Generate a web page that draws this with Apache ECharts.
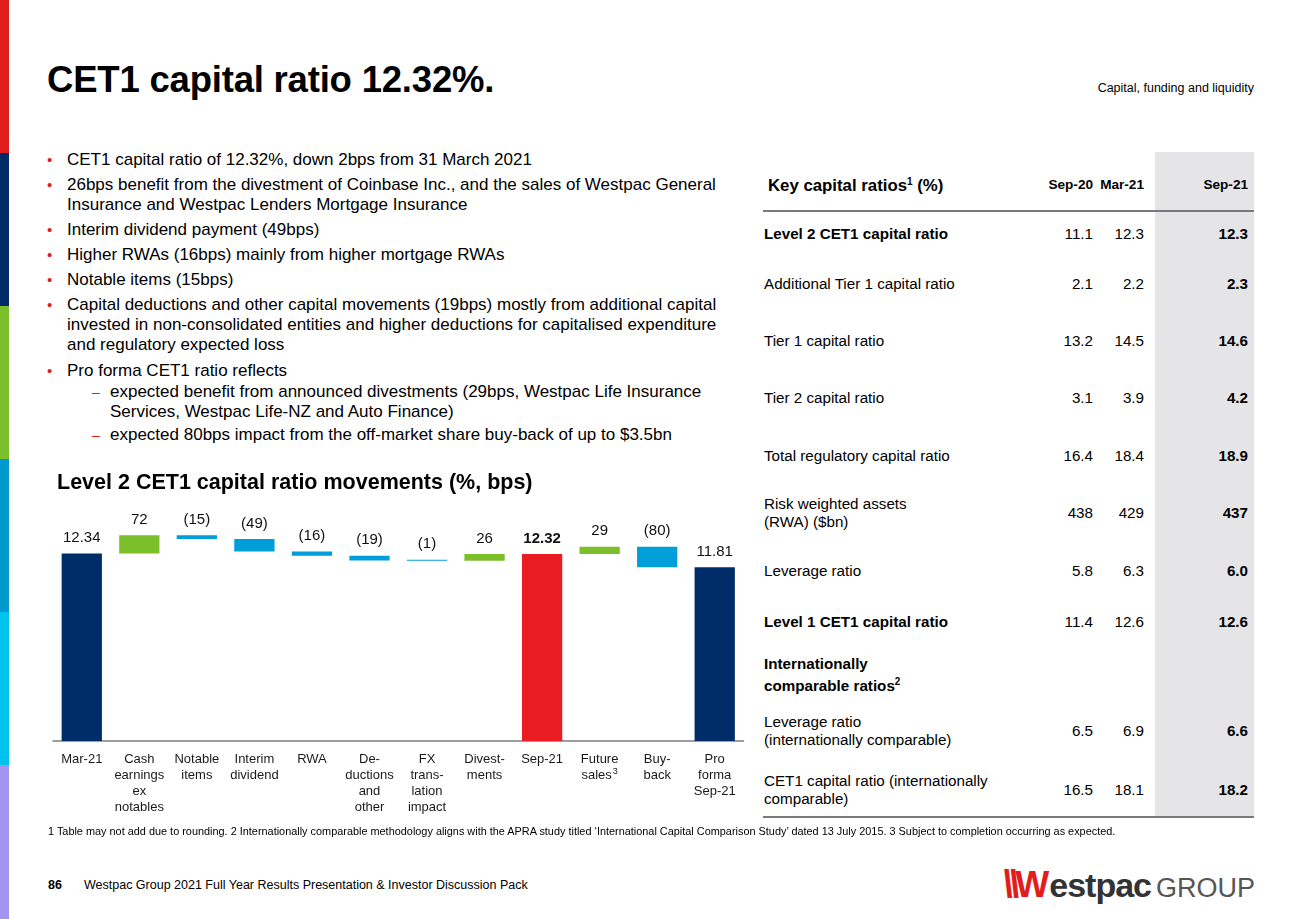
<!DOCTYPE html>
<html>
<head>
<meta charset="utf-8">
<script src="https://cdn.jsdelivr.net/npm/echarts@6/dist/echarts.min.js"></script>
<style>
  html, body { margin: 0; padding: 0; background: #fff; }
  body { width: 1300px; height: 919px; position: relative; overflow: hidden;
         font-family: Arial, "Liberation Sans", Helvetica, sans-serif; color: #000; }
  .abs { position: absolute; }
  .stripe { position: absolute; left: 0; width: 9px; }
  #title { left: 47px; top: 59px; font-size: 36.5px; font-weight: bold; letter-spacing: -0.2px; }
  #section { right: 46px; top: 81px; font-size: 12.5px; color: #000; }
  .bl { position: absolute; left: 67px; font-size: 17px; line-height: 20px; white-space: nowrap; }
  .bl .dot { position: absolute; left: -20px; top: 0; color: #E21D1D; font-size: 15px; }
  .sb { position: absolute; left: 110px; font-size: 17px; line-height: 20px; white-space: nowrap; }
  .sb .dash { position: absolute; left: -18px; top: 0; color: #E21D1D; font-size: 14px; }
  #shade { left: 1155px; top: 152px; width: 99px; height: 665px; background: #E5E5E8; }
  .hline { position: absolute; left: 763px; width: 491px; height: 2px; background: #7a7a7a; }
  .tl { position: absolute; left: 764px; font-size: 15.2px; line-height: 18px; white-space: nowrap; transform: translateY(-50%); }
  .tv { position: absolute; font-size: 15.2px; line-height: 18px; text-align: right; width: 60px; transform: translateY(-50%); }
  .th { position: absolute; font-size: 13.6px; font-weight: bold; text-align: right; width: 70px; transform: translateY(-50%); }
  #foot { left: 48px; top: 825px; font-size: 10.9px; white-space: nowrap; }
  #pg { left: 48px; top: 878px; font-size: 12.5px; font-weight: bold; }
  #pgt { left: 84px; top: 878px; font-size: 12.5px; }
  #logo { right: 45px; top: 866px; white-space: nowrap; line-height: 36px; }
  #chart { position: absolute; left: 0; top: 455px; width: 770px; height: 375px; }
</style>
</head>
<body>
<div class="stripe" style="top:0;height:153px;background:#E21D1D"></div>
<div class="stripe" style="top:153px;height:153px;background:#002D6A"></div>
<div class="stripe" style="top:306px;height:153px;background:#7BBF2A"></div>
<div class="stripe" style="top:459px;height:153px;background:#0099CF"></div>
<div class="stripe" style="top:612px;height:153px;background:#00C2EE"></div>
<div class="stripe" style="top:765px;height:154px;background:#A294F0"></div>

<div id="title" class="abs">CET1 capital ratio 12.32%.</div>
<div id="section" class="abs">Capital, funding and liquidity</div>

<div class="bl" style="top:150px"><span class="dot">•</span>CET1 capital ratio of 12.32%, down 2bps from 31 March 2021</div>
<div class="bl" style="top:175px"><span class="dot">•</span>26bps benefit from the divestment of Coinbase Inc., and the sales of Westpac General<br>Insurance and Westpac Lenders Mortgage Insurance</div>
<div class="bl" style="top:220px"><span class="dot">•</span>Interim dividend payment (49bps)</div>
<div class="bl" style="top:245px"><span class="dot">•</span>Higher RWAs (16bps) mainly from higher mortgage RWAs</div>
<div class="bl" style="top:270px"><span class="dot">•</span>Notable items (15bps)</div>
<div class="bl" style="top:295px"><span class="dot">•</span>Capital deductions and other capital movements (19bps) mostly from additional capital<br>invested in non-consolidated entities and higher deductions for capitalised expenditure<br>and regulatory expected loss</div>
<div class="bl" style="top:361px"><span class="dot">•</span>Pro forma CET1 ratio reflects</div>
<div class="sb" style="top:382px"><span class="dash">–</span>expected benefit from announced divestments (29bps, Westpac Life Insurance<br>Services, Westpac Life-NZ and Auto Finance)</div>
<div class="sb" style="top:425px"><span class="dash">–</span>expected 80bps impact from the off-market share buy-back of up to $3.5bn</div>

<div id="shade" class="abs"></div>
<div class="hline" style="top:210px"></div>
<div class="hline" style="top:816px"></div>
<div id="table"></div>

<div id="chart"></div>

<div id="foot" class="abs">1 Table may not add due to rounding. 2 Internationally comparable methodology aligns with the APRA study titled ‘International Capital Comparison Study’ dated 13 July 2015. 3 Subject to completion occurring as expected.</div>
<div id="pg" class="abs">86</div>
<div id="pgt" class="abs">Westpac Group 2021 Full Year Results Presentation &amp; Investor Discussion Pack</div>
<div id="logo" class="abs"><span style="color:#E21D1D;font-weight:900;font-size:38px;font-style:italic;letter-spacing:-4px">\\</span><span style="color:#E21D1D;font-weight:900;font-size:36px">W</span><span style="color:#333;font-weight:bold;font-size:34px;letter-spacing:-1px">estpac</span><span style="color:#555;font-size:27px;margin-left:5px">GROUP</span></div>

<script>
// ---- Chart data ----
const categories = ['Mar-21', 'Cash\nearnings\nex\nnotables', 'Notable\nitems', 'Interim\ndividend', 'RWA',
  'De-\nductions\nand\nother', 'FX\ntrans-\nlation\nimpact', 'Divest-\nments', 'Sep-21', 'Future\nsales',
  'Buy-\nback', 'Pro\nforma\nSep-21'];
const categoryNotes = ['', '', '', '', '', '', '', '', '', '3', '', ''];
const totalValues = [12.34, null, null, null, null, null, null, null, 12.32, null, null, 11.81];
const movementBps = [null, 72, -15, -49, -16, -19, -1, 26, null, 29, -80, null];
const totalColors = ['#002D6A', null, null, null, null, null, null, null, '#E91C24', null, null, '#002D6A'];

// ---- Table data ----
const tableColumns = ['Sep-20', 'Mar-21', 'Sep-21'];
const tableRowLabels = ['Level 2 CET1 capital ratio', 'Additional Tier 1 capital ratio', 'Tier 1 capital ratio',
  'Tier 2 capital ratio', 'Total regulatory capital ratio', 'Risk weighted assets<br>(RWA) ($bn)', 'Leverage ratio',
  'Level 1 CET1 capital ratio', 'Internationally<br>comparable ratios<sup style="font-size:10px">2</sup>',
  'Leverage ratio<br>(internationally comparable)', 'CET1 capital ratio (internationally<br>comparable)'];
const tableSep20 = ['11.1', '2.1', '13.2', '3.1', '16.4', '438', '5.8', '11.4', '', '6.5', '16.5'];
const tableMar21 = ['12.3', '2.2', '14.5', '3.9', '18.4', '429', '6.3', '12.6', '', '6.9', '18.1'];
const tableSep21 = ['12.3', '2.3', '14.6', '4.2', '18.9', '437', '6.0', '12.6', '', '6.6', '18.2'];
const tableBoldRows = [0, 7, 8];

// ---- Build table ----
(function () {
  const t = document.getElementById('table');
  const rowY = [234, 284, 341, 398, 456, 513, 571, 622, 675, 731, 790];
  let html = '<div class="tl" style="top:184px;font-size:16.8px;font-weight:bold;left:768px">Key capital ratios<sup style="font-size:10px">1</sup> (%)</div>';
  const colRight = [1093, 1144, 1248];
  tableColumns.forEach((c, i) => {
    html += '<div class="th" style="top:184px;left:' + (colRight[i] - 70) + 'px">' + c + '</div>';
  });
  tableRowLabels.forEach((lab, r) => {
    const b = tableBoldRows.indexOf(r) >= 0 ? 'font-weight:bold;' : '';
    html += '<div class="tl" style="top:' + rowY[r] + 'px;' + b + '">' + lab + '</div>';
    [tableSep20, tableMar21, tableSep21].forEach((arr, i) => {
      const bb = i === 2 ? 'font-weight:bold;' : '';
      html += '<div class="tv" style="top:' + rowY[r] + 'px;left:' + (colRight[i] - 60) + 'px;' + bb + '">' + arr[r] + '</div>';
    });
  });
  t.innerHTML = html;
})();

// ---- Build waterfall ----
const baseData = [], barData = [];
let level = 0;
categories.forEach((c, i) => {
  if (totalValues[i] !== null) {
    level = totalValues[i];
    baseData.push(0);
    barData.push({ value: totalValues[i], itemStyle: { color: totalColors[i] },
      label: { formatter: totalValues[i].toFixed(2), fontWeight: i === 8 ? 'bold' : 'normal' } });
  } else {
    const d = movementBps[i] / 100;
    const next = Math.round((level + d) * 100) / 100;
    const lo = Math.min(level, next);
    baseData.push(lo);
    const lbl = movementBps[i] < 0 ? '(' + Math.abs(movementBps[i]) + ')' : String(movementBps[i]);
    barData.push({ value: Math.abs(d), itemStyle: { color: movementBps[i] < 0 ? '#009FDA' : '#7BBF2A' },
      label: { formatter: lbl } });
    level = next;
  }
});

const chart = echarts.init(document.getElementById('chart'), null, { renderer: 'canvas' });
chart.setOption({
  animation: false,
  title: {
    text: 'Level 2 CET1 capital ratio movements (%, bps)',
    left: 57, top: 17, padding: 0,
    textStyle: { fontFamily: 'Arial, Liberation Sans', fontSize: 21.5, fontWeight: 'bold', color: '#000' }
  },
  grid: { left: 53, right: 26.5, top: 69, bottom: 89, containLabel: false },
  xAxis: {
    type: 'category',
    data: categories,
    axisLine: { lineStyle: { color: '#7f7f7f', width: 1.5 } },
    axisTick: { show: false },
    axisLabel: {
      interval: 0, margin: 10, color: '#1a1a1a', fontSize: 13, lineHeight: 16,
      fontFamily: 'Arial, Liberation Sans',
      formatter: function (v, idx) {
        return categoryNotes[idx] ? v + '{sup|' + categoryNotes[idx] + '}' : v;
      },
      rich: { sup: { fontSize: 9, lineHeight: 16, verticalAlign: 'top', padding: [0, 0, 6, 1], color: '#1a1a1a' } }
    }
  },
  yAxis: { type: 'value', min: 5, max: 13.5, show: false, splitLine: { show: false } },
  series: [
    { type: 'bar', stack: 'w', data: baseData, barWidth: '70%', itemStyle: { color: 'transparent' }, silent: true },
    { type: 'bar', stack: 'w', data: barData, barWidth: '70%', barMinHeight: 1,
      label: { show: true, position: 'top', distance: 8, fontSize: 15, color: '#111', fontFamily: 'Arial, Liberation Sans' } }
  ]
});
</script>
</body>
</html>
